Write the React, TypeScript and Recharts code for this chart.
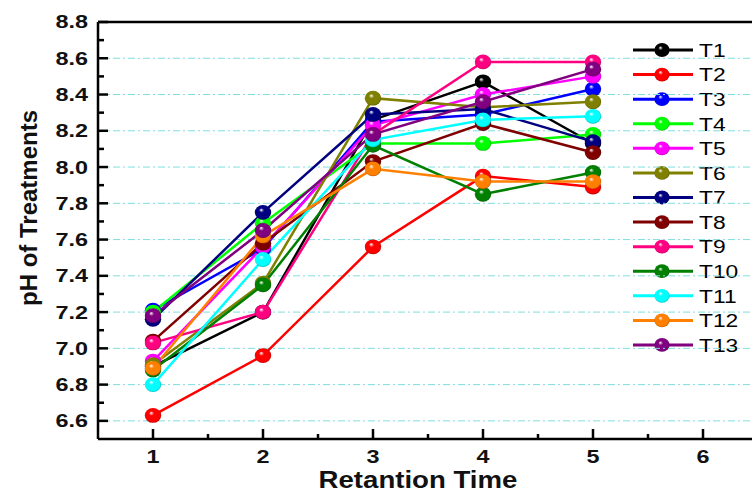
import React from 'react';
import { LineChart, Line, XAxis, YAxis, ReferenceLine } from 'recharts';

const FONT = '"Liberation Sans", Arial, sans-serif';

// retention time (x) and the 13 treatments
const retentionTimes = [1, 2, 3, 4, 5];
const seriesNames = ['T1', 'T2', 'T3', 'T4', 'T5', 'T6', 'T7', 'T8', 'T9', 'T10', 'T11', 'T12', 'T13'];
const seriesColors = [
  '#000000', '#ff0000', '#0000ff', '#00ff00', '#ff00ff', '#808000', '#000080',
  '#800000', '#ff0080', '#008000', '#00ffff', '#ff8000', '#800080',
];

const t1 = [6.9, 7.2, 8.26, 8.47, 8.13];
const t2 = [6.63, 6.96, 7.56, 7.95, 7.89];
const t3 = [7.21, 7.55, 8.25, 8.29, 8.43];
const t4 = [7.2, 7.69, 8.13, 8.13, 8.18];
const t5 = [6.93, 7.56, 8.23, 8.4, 8.5];
const t6 = [6.91, 7.36, 8.38, 8.33, 8.36];
const t7 = [7.16, 7.75, 8.29, 8.32, 8.14];
const t8 = [7.04, 7.58, 8.03, 8.24, 8.08];
const t9 = [7.03, 7.2, 8.18, 8.58, 8.58];
const t10 = [6.88, 7.35, 8.12, 7.85, 7.97];
const t11 = [6.8, 7.49, 8.15, 8.26, 8.28];
const t12 = [6.89, 7.62, 7.99, 7.92, 7.92];
const t13 = [7.18, 7.65, 8.18, 8.36, 8.54];
const seriesValues = [t1, t2, t3, t4, t5, t6, t7, t8, t9, t10, t11, t12, t13];

const yTicks = [
  6.6, 6.7, 6.8, 6.9, 7.0, 7.1, 7.2, 7.3, 7.4, 7.5, 7.6, 7.7,
  7.8, 7.9, 8.0, 8.1, 8.2, 8.3, 8.4, 8.5, 8.6, 8.7, 8.8,
];
const yGridValues = [6.6, 6.8, 7.0, 7.2, 7.4, 7.6, 7.8, 8.0, 8.2, 8.4, 8.6];
const xTicks = [1, 1.5, 2, 2.5, 3, 3.5, 4, 4.5, 5, 5.5, 6];

const chartData = retentionTimes.map((t, i) => {
  const row: Record<string, number> = { t };
  seriesNames.forEach((name, s) => {
    row[name] = seriesValues[s][i];
  });
  return row;
});

const AXIS_X = 98;
const AXIS_Y = 439;

const darken = (hex: string, k: number) => {
  const n = parseInt(hex.slice(1), 16);
  const r = Math.round(((n >> 16) & 255) * k);
  const g = Math.round(((n >> 8) & 255) * k);
  const b = Math.round((n & 255) * k);
  return `rgb(${r},${g},${b})`;
};

const makeDot = (idx: number) => (props: any) => {
  const { cx, cy, index } = props;
  if (cx == null || cy == null) return <g key={`d-${idx}-${index}`} />;
  return (
    <ellipse
      key={`d-${idx}-${index}`}
      cx={cx}
      cy={cy}
      rx={8.2}
      ry={7.4}
      fill={`url(#ball-${idx})`}
    />
  );
};

const YTick = (props: any) => {
  const { y, payload } = props;
  const v = payload.value as number;
  const major = Math.round(v * 10) % 2 === 0;
  return (
    <g>
      <line x1={AXIS_X} x2={AXIS_X + (major ? 10 : 6)} y1={y} y2={y} stroke="#000" strokeWidth={2.5} />
      {major && (
        <text
          transform={`translate(88,${y}) scale(1.3,1)`}
          textAnchor="end"
          dy="0.36em"
          fontSize={18}
          fontWeight="bold"
          fontFamily={FONT}
          fill="#111"
        >
          {v.toFixed(1)}
        </text>
      )}
    </g>
  );
};

const XTick = (props: any) => {
  const { x, payload } = props;
  const v = payload.value as number;
  const major = Number.isInteger(v);
  return (
    <g>
      <line x1={x} x2={x} y1={AXIS_Y} y2={AXIS_Y - (major ? 10 : 5)} stroke="#000" strokeWidth={2.5} />
      {major && (
        <text
          transform={`translate(${x},463) scale(1.3,1)`}
          textAnchor="middle"
          fontSize={18}
          fontWeight="bold"
          fontFamily={FONT}
          fill="#111"
        >
          {v}
        </text>
      )}
    </g>
  );
};

const LegendBox = () => (
  <g>
    {seriesNames.map((name, i) => {
      const cy = 50 + i * 24.58;
      return (
        <g key={name}>
          <line x1={633} x2={693} y1={cy} y2={cy} stroke={seriesColors[i]} strokeWidth={3} />
          <ellipse cx={662} cy={cy} rx={7.6} ry={6.9} fill={`url(#ball-${i})`} />
          <text
            transform={`translate(699,${cy}) scale(1.2,1)`}
            dy="0.36em"
            fontSize={19}
            fontFamily={FONT}
            fill="#000"
          >
            {name}
          </text>
        </g>
      );
    })}
  </g>
);

export default function App() {
  return (
    <div style={{ position: 'absolute', left: 0, top: 0, width: 752, height: 494, overflow: 'hidden', background: '#fff' }}>
      <LineChart width={760} height={494} data={chartData} margin={{ top: 22, right: 2, bottom: 0, left: 0 }}>
        <defs>
          {seriesColors.map((c, i) => (
            <radialGradient key={c} id={`ball-${i}`} cx="50%" cy="50%" r="55%" fx="38%" fy="32%">
              <stop offset="0%" stopColor="#ffffff" />
              <stop offset="28%" stopColor={c} />
              <stop offset="80%" stopColor={c} />
              <stop offset="100%" stopColor={darken(c, 0.6)} />
            </radialGradient>
          ))}
        </defs>
        {yGridValues.map((v) => (
          <ReferenceLine key={v} y={v} stroke="#7fdede" strokeWidth={1} strokeDasharray="7 3 2 3" />
        ))}
        <ReferenceLine y={8.8} stroke="#000" strokeWidth={2.5} />
        <XAxis
          dataKey="t"
          type="number"
          domain={[0.5, 6.5]}
          ticks={xTicks}
          interval={0}
          height={55}
          axisLine={{ stroke: '#000', strokeWidth: 2.5 }}
          tickLine={false}
          tick={(p: any) => <XTick {...p} />}
          allowDataOverflow
        />
        <YAxis
          type="number"
          domain={[6.5, 8.8]}
          ticks={yTicks}
          interval={0}
          width={98}
          axisLine={{ stroke: '#000', strokeWidth: 2.5 }}
          tickLine={false}
          tick={(p: any) => <YTick {...p} />}
          allowDataOverflow
        />
        {seriesNames.map((name, i) => (
          <Line
            key={name}
            type="linear"
            dataKey={name}
            stroke={seriesColors[i]}
            strokeWidth={2.5}
            dot={makeDot(i)}
            activeDot={false}
            isAnimationActive={false}
          />
        ))}
        <LegendBox />
        <text
          transform="translate(418,488) scale(1.15,1)"
          textAnchor="middle"
          fontSize={24}
          fontWeight="bold"
          fontFamily={FONT}
          fill="#111"
        >
          Retantion Time
        </text>
        <text
          transform="translate(37,208) rotate(-90)"
          textAnchor="middle"
          fontSize={24}
          fontWeight="bold"
          fontFamily={FONT}
          fill="#111"
        >
          pH of Treatments
        </text>
      </LineChart>
    </div>
  );
}
